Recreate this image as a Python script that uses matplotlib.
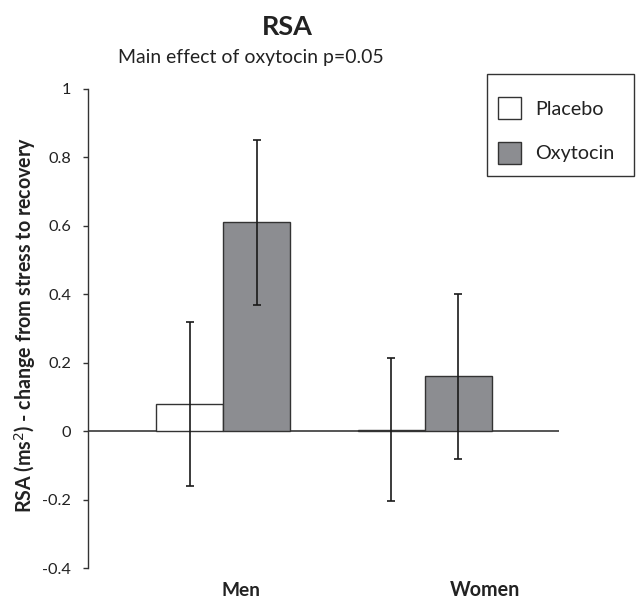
import numpy as np
import matplotlib.pyplot as plt
from matplotlib.patches import Rectangle
from matplotlib.transforms import blended_transform_factory

plt.rcParams['font.family'] = ['Lato', 'DejaVu Sans']

# --- data ---
groups = ['Men', 'Women']
series = ['Placebo', 'Oxytocin']
placebo = [0.08, 0.005]
oxytocin = [0.61, 0.16]
placebo_err = [0.24, 0.21]
oxytocin_err = [0.24, 0.24]

W, H = 641, 601
txt = '#222222'
edge = '#333333'
grey = '#8c8d91'

x = np.arange(len(groups))
w = 1 / 3

fig = plt.figure(figsize=(W / 100, H / 100), dpi=100)
ax = fig.add_axes([88 / W, 1 - 568.3 / H, 471 / W, (568.3 - 88.7) / H])
r = fig.canvas.get_renderer()


def fit(t, target):
    # scale font so the text spans target pixels
    bb = t.get_window_extent(r)
    t.set_fontsize(t.get_fontsize() * target / max(bb.width, bb.height))
    return t


ax.axhline(0, color='#555555', lw=1.4, zorder=1)
ax.bar(x - w / 2, placebo, w, color='white', edgecolor=edge, lw=1.0, zorder=2)
ax.bar(x + w / 2, oxytocin, w, color=grey, edgecolor=edge, lw=1.0, zorder=2)
ax.errorbar(x - w / 2, placebo, yerr=placebo_err, fmt='none', ecolor='#1a1a1a',
            elinewidth=1.2, capsize=3, capthick=1.2, zorder=3)
ax.errorbar(x + w / 2, oxytocin, yerr=oxytocin_err, fmt='none', ecolor='#1a1a1a',
            elinewidth=1.2, capsize=3, capthick=1.2, zorder=3)

ax.set_xlim(-0.674, 1.669)
ax.set_ylim(-0.4, 1)
ax.set_yticks([-0.4, -0.2, 0, 0.2, 0.4, 0.6, 0.8, 1])
ax.set_yticklabels(['-0.4', '-0.2', '0', '0.2', '0.4', '0.6', '0.8', '1'])
ax.set_xticks([])
for s in ['top', 'right', 'bottom']:
    ax.spines[s].set_visible(False)
ax.spines['left'].set_color(edge)
ax.spines['left'].set_linewidth(1)

# tick label size from the width of "0.8"
probe = fig.text(0, 0, '0.8', fontsize=11)
fit(probe, 23)
tfs = probe.get_fontsize()
probe.remove()
ax.tick_params(axis='y', labelsize=tfs, length=3.6, width=1, color=edge,
               labelcolor=txt, pad=8.6)

# category labels (offset as in the source figure)
lab_off = [0.087, 0.30]
lab_w = [39, 70]
xf = blended_transform_factory(ax.transData, fig.transFigure)
for xi, g, off, lw_ in zip(x, groups, lab_off, lab_w):
    t = ax.text(xi + off, 1 - 590 / H, g, transform=xf, ha='center', va='center',
                fontsize=12, fontweight='bold', color=txt)
    fit(t, lw_)

yl = fig.text(25 / W, 1 - 325 / H, 'RSA (ms$^2$) - change from stress to recovery',
              rotation=90, ha='center', va='center', fontsize=12,
              fontweight='bold', color=txt)
fit(yl, 375)

tt = fig.text(287 / W, 1 - 27 / H, 'RSA', ha='center', va='center', fontsize=18,
              fontweight='bold', color=txt)
fit(tt, 51)
st = fig.text(251 / W, 1 - 57 / H, 'Main effect of oxytocin p=0.05', ha='center',
              va='center', fontsize=12, color=txt)
fit(st, 264)

# legend box
fig.patches.append(Rectangle((487 / W, 1 - 176 / H), 147 / W, 102 / H, fill=False,
                             edgecolor=edge, lw=1, transform=fig.transFigure))
leg_fc = ['white', grey]
lt = []
for i, (lab, fc) in enumerate(zip(series, leg_fc)):
    fig.patches.append(Rectangle((498 / W, 1 - (119 + 45 * i) / H), 23 / W, 22 / H,
                                 facecolor=fc, edgecolor=edge, lw=1,
                                 transform=fig.transFigure))
    lt.append(fig.text(535 / W, 1 - (109 + 45 * i) / H, lab, ha='left',
                       va='center', fontsize=13, color=txt))
fit(lt[1], 79)
lt[0].set_fontsize(lt[1].get_fontsize())

fig.savefig('out.png', dpi=100)
